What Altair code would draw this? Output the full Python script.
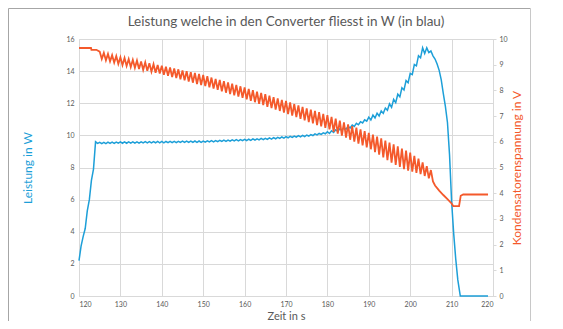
import altair as alt
import pandas as pd

# ---------------- data ----------------
# Power into the converter (W, left axis)
blue_head_t = [120.0, 120.5, 121.0, 121.5, 122.0, 122.5, 123.0, 123.5, 124.0, 124.5]
blue_head_w = [2.2, 3.1, 3.7, 4.2, 5.3, 6.0, 7.2, 7.9, 9.6, 9.5]

tooth_t = list(range(125, 206))  # one ripple per second, peak at t, trough at t+0.5

blue_hi = [9.57, 9.57, 9.58, 9.58, 9.58, 9.59, 9.59, 9.59, 9.60, 9.60,
           9.60, 9.61, 9.61, 9.61, 9.62, 9.62, 9.62, 9.63, 9.63, 9.63,
           9.64, 9.64, 9.64, 9.65, 9.65, 9.65, 9.66, 9.67, 9.68, 9.69,
           9.70, 9.71, 9.72, 9.73, 9.74, 9.75, 9.76, 9.78, 9.79, 9.81,
           9.82, 9.84, 9.86, 9.88, 9.90, 9.92, 9.94, 9.96, 9.98, 10.00,
           10.02, 10.05, 10.09, 10.12, 10.16, 10.23, 10.29, 10.35, 10.41, 10.48,
           10.55, 10.65, 10.75, 10.85, 10.97, 11.14, 11.26, 11.38, 11.52, 11.70,
           11.96, 12.24, 12.56, 12.96, 13.41, 13.86, 14.41, 14.96, 15.45, 15.45,
           15.25]
blue_lo = [9.49, 9.49, 9.50, 9.50, 9.51, 9.51, 9.51, 9.52, 9.52, 9.52,
           9.53, 9.53, 9.53, 9.54, 9.54, 9.54, 9.55, 9.55, 9.55, 9.56,
           9.56, 9.56, 9.57, 9.57, 9.57, 9.58, 9.59, 9.60, 9.61, 9.62,
           9.63, 9.64, 9.65, 9.66, 9.67, 9.68, 9.69, 9.71, 9.72, 9.74,
           9.75, 9.77, 9.79, 9.81, 9.83, 9.85, 9.87, 9.89, 9.91, 9.93,
           9.96, 9.99, 10.03, 10.06, 10.10, 10.12, 10.18, 10.24, 10.31, 10.38,
           10.46, 10.56, 10.66, 10.77, 10.89, 10.96, 11.08, 11.21, 11.37, 11.56,
           11.74, 12.04, 12.40, 12.83, 13.28, 13.78, 14.33, 14.83, 15.10, 15.15,
           14.95]

blue_tail_t = [206.0, 206.5, 207.0, 207.5, 208.0, 208.5, 209.0, 209.5, 210.0, 210.5, 211.0, 211.5, 212.1, 218.8]
blue_tail_w = [14.75, 14.45, 14.05, 13.45, 12.6, 11.8, 10.8, 8.8, 5.9, 3.9, 2.3, 1.0, 0.0, 0.0]

# Capacitor voltage (V, right axis)
orange_head_t = [120.0, 122.9, 123.0, 124.2]
orange_head_v = [9.65, 9.65, 9.58, 9.58]

orange_hi = [9.51, 9.46, 9.42, 9.37, 9.34, 9.29, 9.26, 9.22, 9.19, 9.16,
             9.13, 9.09, 9.06, 9.02, 8.99, 8.96, 8.92, 8.89, 8.85, 8.82,
             8.78, 8.75, 8.71, 8.68, 8.64, 8.60, 8.55, 8.50, 8.45, 8.41,
             8.36, 8.31, 8.26, 8.21, 8.16, 8.12, 8.06, 8.01, 7.95, 7.90,
             7.85, 7.80, 7.74, 7.69, 7.63, 7.59, 7.53, 7.47, 7.42, 7.36,
             7.30, 7.25, 7.20, 7.15, 7.09, 7.04, 6.97, 6.90, 6.82, 6.76,
             6.68, 6.61, 6.55, 6.48, 6.42, 6.35, 6.28, 6.20, 6.13, 6.05,
             5.97, 5.90, 5.82, 5.74, 5.66, 5.58, 5.45, 5.35, 5.20, 5.05,
             4.90]
orange_lo = [9.22, 9.17, 9.13, 9.08, 9.03, 8.98, 8.95, 8.91, 8.88, 8.83,
             8.80, 8.76, 8.73, 8.69, 8.66, 8.61, 8.57, 8.52, 8.48, 8.43,
             8.39, 8.34, 8.30, 8.25, 8.21, 8.17, 8.12, 8.07, 8.02, 7.96,
             7.91, 7.86, 7.81, 7.76, 7.71, 7.65, 7.59, 7.54, 7.48, 7.43,
             7.36, 7.31, 7.25, 7.20, 7.14, 7.08, 7.02, 6.96, 6.89, 6.83,
             6.77, 6.72, 6.65, 6.60, 6.54, 6.48, 6.39, 6.32, 6.24, 6.16,
             6.08, 6.01, 5.93, 5.86, 5.78, 5.71, 5.60, 5.50, 5.39, 5.29,
             5.19, 5.10, 5.02, 4.94, 4.88, 4.84, 4.79, 4.74, 4.67, 4.58,
             4.46]

orange_tail_t = [206.0, 207.0, 208.0, 209.0, 210.0, 210.4, 211.8, 212.2, 212.8, 218.8]
orange_tail_v = [4.30, 4.10, 3.93, 3.77, 3.60, 3.50, 3.50, 3.90, 3.95, 3.95]

x_ticks = [120, 130, 140, 150, 160, 170, 180, 190, 200, 210, 220]
left_ticks = [0, 2, 4, 6, 8, 10, 12, 14, 16]
right_ticks = [0, 1, 2, 3, 4, 5, 6, 7, 8, 9, 10]

TITLE = "Leistung welche in den Converter fliesst in W (in blau)"
BLUE = "#1d9fd8"
ORANGE = "#f4592b"
GRID = "#d9d9d9"
TXT = "#595959"
FONT = "Lato"


def build(head_t, head_v, hi, lo, tail_t, tail_v):
    t, v = list(head_t), list(head_v)
    for i, tt in enumerate(tooth_t):
        t += [tt, tt + 0.5]
        v += [hi[i], lo[i]]
    t += tail_t
    v += tail_v
    return pd.DataFrame({"t": t, "val": v, "o": range(len(t))})


blue_df = build(blue_head_t, blue_head_w, blue_hi, blue_lo, blue_tail_t, blue_tail_w)
orange_df = build(orange_head_t, orange_head_v, orange_hi, orange_lo, orange_tail_t, orange_tail_v)

W, H = 414, 257

x_enc = alt.X(
    "t:Q",
    scale=alt.Scale(domain=[120, 220], nice=False, zero=False),
    axis=alt.Axis(
        values=x_ticks, title="Zeit in s", grid=True, gridColor=GRID,
        domain=True, domainColor=GRID, ticks=False, labelPadding=4,
        labelFont=FONT, labelFontSize=7, labelColor=TXT,
        titleFont=FONT, titleFontSize=11, titleFontWeight="normal", titleColor=TXT,
        titleX=W / 2, titleY=20, titleBaseline="middle",
    ),
)

blue = alt.Chart(blue_df).mark_line(color=BLUE, strokeWidth=1.5).encode(
    x=x_enc,
    y=alt.Y(
        "val:Q",
        scale=alt.Scale(domain=[0, 16], nice=False),
        axis=alt.Axis(
            values=left_ticks, title="Leistung in W", grid=True, gridColor=GRID,
            domain=False, ticks=False, labelPadding=5,
            labelFont=FONT, labelFontSize=7, labelColor=TXT,
            titleFont=FONT, titleFontSize=12, titleFontWeight="normal", titleColor=BLUE,
            titleX=-52, titleY=H / 2, titleAngle=-90, titleAlign="center", titleBaseline="middle",
        ),
    ),
    order="o:Q",
)

orange = alt.Chart(orange_df).mark_line(color=ORANGE, strokeWidth=1.8).encode(
    x=alt.X("t:Q", scale=alt.Scale(domain=[120, 220], nice=False, zero=False)),
    y=alt.Y(
        "val:Q",
        scale=alt.Scale(domain=[0, 10], nice=False),
        axis=alt.Axis(
            orient="right", values=right_ticks, title="Kondensatorenspannung  in V",
            grid=False, domain=False, ticks=True, tickSize=3, tickColor=GRID, labelPadding=3,
            labelFont=FONT, labelFontSize=7, labelColor=TXT,
            titleFont=FONT, titleFontSize=12, titleFontWeight="normal", titleColor=ORANGE,
            titleX=23, titleY=H / 2, titleAngle=-90, titleAlign="center", titleBaseline="middle",
        ),
    ),
    order="o:Q",
)

one = pd.DataFrame({"k": [0]})
title_mark = alt.Chart(one).mark_text(
    text=TITLE, font=FONT, fontSize=13.5, color=TXT, align="center", baseline="middle"
).encode(x=alt.value(W / 2), y=alt.value(-17.5))

# decorative frame of the original screenshot
frame_top = alt.Chart(one).mark_rule(color="#a6a6a6", strokeWidth=1, clip=False).encode(
    x=alt.value(-70.5), x2=alt.value(451.5), y=alt.value(-30.5)
)
frame_left = alt.Chart(one).mark_rule(color="#a6a6a6", strokeWidth=1, clip=False).encode(
    x=alt.value(-70.5), y=alt.value(-30.5), y2=alt.value(290)
)
frame_right = alt.Chart(one).mark_rule(color="#c8c8c8", strokeWidth=1, clip=False).encode(
    x=alt.value(451.5), y=alt.value(-30.5), y2=alt.value(290)
)

chart = (
    alt.layer(blue, orange, title_mark, frame_top, frame_left, frame_right)
    .resolve_scale(y="independent")
    .properties(
        width=W, height=H,
        autosize=alt.AutoSizeParams(type="none"),
        padding={"left": 71, "top": 31, "right": 62, "bottom": 25},
    )
    .configure_view(stroke=None)
    .configure(background="white")
)

chart.save("out.html", embed_options={"renderer": "svg", "actions": False})
